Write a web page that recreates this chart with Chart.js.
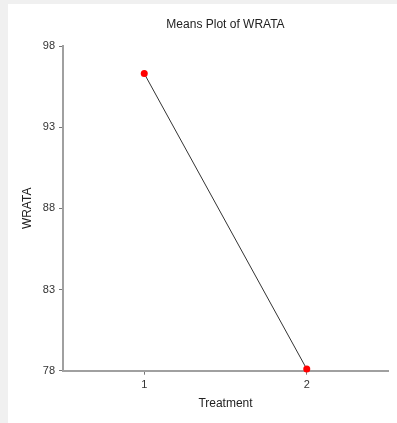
<!DOCTYPE html>
<html>
<head>
<meta charset="utf-8">
<title>Means Plot of WRATA</title>
<script src="https://cdn.jsdelivr.net/npm/chart.js@4.4.1/dist/chart.umd.min.js"></script>
<style>
  html, body { margin: 0; padding: 0; background: #f0f0f0; }
  body { width: 397px; height: 423px; position: relative; overflow: hidden; }
  #chart { position: absolute; left: 8px; top: 4px; background: #ffffff; }
</style>
</head>
<body>
<canvas id="chart" width="389" height="419"></canvas>
<script>
// data
const treatments = [1, 2];
const means = [96.3, 78.1];
const yTicks = [78, 83, 88, 93, 98];

const FONT = "'Liberation Sans', Arial, sans-serif";
const points = treatments.map((t, i) => ({ x: t, y: means[i] }));

const ctx = document.getElementById('chart').getContext('2d');
new Chart(ctx, {
    type: 'line',
    data: {
        datasets: [{
            data: points,
            borderColor: '#333333',
            borderWidth: 1,
            pointBackgroundColor: '#ff0000',
            pointBorderWidth: 0,
            pointRadius: 3.5,
            clip: false,
            tension: 0
        }]
    },
    options: {
        responsive: false,
        animation: false,
        layout: { padding: { left: 0, right: 9, top: 0, bottom: 0 } },
        plugins: {
            legend: { display: false },
            tooltip: { enabled: false },
            title: {
                display: true,
                fullSize: false,   // center over the plot area, not the canvas
                text: 'Means Plot of WRATA',
                color: '#222222',
                font: { family: FONT, size: 12, weight: 'normal' },
                padding: { top: 13, bottom: 14.6 }
            }
        },
        scales: {
            x: {
                type: 'linear',
                min: 0.5,
                max: 2.5,
                afterBuildTicks: (s) => { s.ticks = treatments.map(v => ({ value: v })); },
                afterFit: (s) => { s.height = 52.3; },
                grid: { drawOnChartArea: false, drawTicks: true, tickLength: 4, color: '#777777' },
                border: { color: '#a0a0a0', width: 2 },
                ticks: { color: '#333333', padding: 4, font: { family: FONT, size: 11 } },
                title: {
                    display: true,
                    text: 'Treatment',
                    color: '#222222',
                    font: { family: FONT, size: 12 },
                    padding: { top: 0, bottom: 12 }
                }
            },
            y: {
                min: 78,
                max: 98,
                afterBuildTicks: (s) => { s.ticks = yTicks.map(v => ({ value: v })); },
                afterFit: (s) => { s.width = 55; },
                grid: { drawOnChartArea: false, drawTicks: true, tickLength: 4, color: '#777777' },
                border: { color: '#a0a0a0', width: 2 },
                ticks: { color: '#333333', padding: 4, font: { family: FONT, size: 11 } },
                title: {
                    display: true,
                    text: 'WRATA',
                    color: '#222222',
                    font: { family: FONT, size: 12 },
                    padding: { top: 12, bottom: 0 }
                }
            }
        }
    }
});
</script>
</body>
</html>
